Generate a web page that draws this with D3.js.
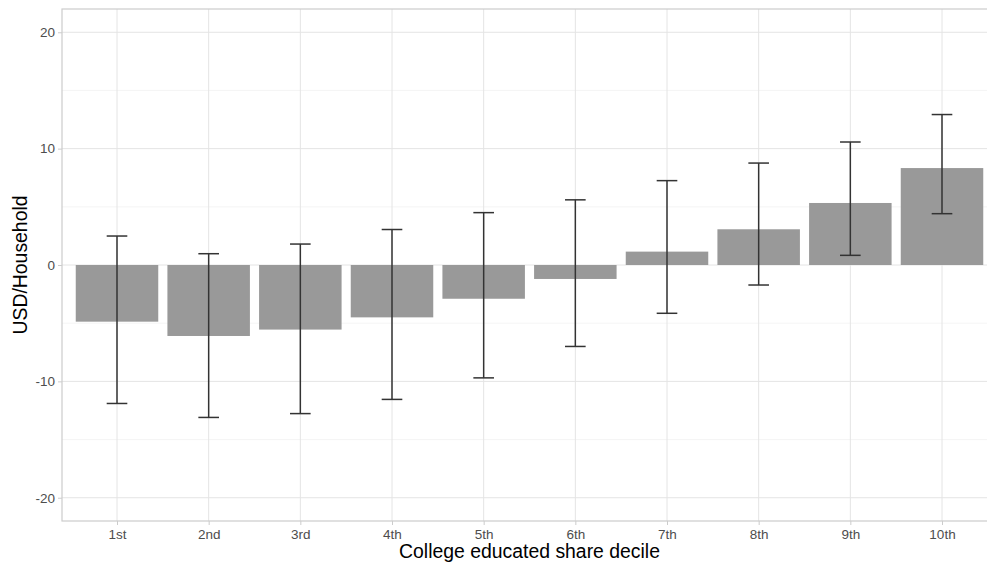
<!DOCTYPE html>
<html>
<head>
<meta charset="utf-8">
<script src="https://cdn.jsdelivr.net/npm/d3@7"></script>
<style>
  html, body { margin: 0; padding: 0; background: #fff; }
  svg { display: block; font-family: "Liberation Sans", Arial, Helvetica, sans-serif; }
</style>
</head>
<body>
<svg id="chart" width="987" height="565"></svg>
<script>
// Deciles of college-educated share
const deciles = ["1st", "2nd", "3rd", "4th", "5th", "6th", "7th", "8th", "9th", "10th"];
// Point estimate (USD per household) and confidence bounds
const estimate = [-4.87, -6.1, -5.55, -4.5, -2.9, -1.2, 1.15, 3.07, 5.33, 8.33];
const lower    = [-11.9, -13.1, -12.77, -11.55, -9.7, -7.0, -4.15, -1.72, 0.83, 4.41];
const upper    = [2.49, 0.97, 1.8, 3.05, 4.5, 5.6, 7.25, 8.76, 10.57, 12.93];
const yTicks = [-20, -10, 0, 10, 20];
const yMinor = [-15, -5, 5, 15];

const svg = d3.select("#chart");
const panel = { left: 62, right: 997, top: 9, bottom: 521 };

// discrete x with 0.6-unit expansion on both sides
const step = (panel.right - panel.left) / (deciles.length - 1 + 1.2);
const x = d3.scalePoint().domain(deciles)
  .range([panel.left + 0.6 * step, panel.right - 0.6 * step]);
const y = d3.scaleLinear().domain([-22, 22]).range([panel.bottom, panel.top]);

const g = svg.append("g");

// minor horizontal gridlines
g.selectAll("line.minor").data(yMinor).join("line")
  .attr("x1", panel.left).attr("x2", panel.right)
  .attr("y1", d => y(d)).attr("y2", d => y(d))
  .attr("stroke", "#efefef").attr("stroke-width", 0.6);

// major gridlines
g.selectAll("line.major").data(yTicks).join("line")
  .attr("x1", panel.left).attr("x2", panel.right)
  .attr("y1", d => y(d)).attr("y2", d => y(d))
  .attr("stroke", "#e4e4e4").attr("stroke-width", 1);
g.selectAll("line.vmajor").data(deciles).join("line")
  .attr("y1", panel.top).attr("y2", panel.bottom)
  .attr("x1", d => x(d)).attr("x2", d => x(d))
  .attr("stroke", "#e4e4e4").attr("stroke-width", 1);

// bars
const barW = 0.9 * step;
g.selectAll("rect.bar").data(deciles).join("rect")
  .attr("x", d => x(d) - barW / 2)
  .attr("width", barW)
  .attr("y", (d, i) => y(Math.max(0, estimate[i])))
  .attr("height", (d, i) => Math.abs(y(estimate[i]) - y(0)))
  .attr("fill", "#999999");

// error bars
const capW = 0.225 * step;
const eb = g.selectAll("g.err").data(deciles).join("g")
  .attr("stroke", "#333333").attr("stroke-width", 1.5).attr("fill", "none");
eb.append("line")
  .attr("x1", d => x(d)).attr("x2", d => x(d))
  .attr("y1", (d, i) => y(upper[i])).attr("y2", (d, i) => y(lower[i]));
eb.append("line")
  .attr("x1", d => x(d) - capW / 2).attr("x2", d => x(d) + capW / 2)
  .attr("y1", (d, i) => y(upper[i])).attr("y2", (d, i) => y(upper[i]));
eb.append("line")
  .attr("x1", d => x(d) - capW / 2).attr("x2", d => x(d) + capW / 2)
  .attr("y1", (d, i) => y(lower[i])).attr("y2", (d, i) => y(lower[i]));

// panel border
svg.append("rect")
  .attr("x", panel.left).attr("y", panel.top)
  .attr("width", panel.right - panel.left).attr("height", panel.bottom - panel.top)
  .attr("fill", "none").attr("stroke", "#cccccc").attr("stroke-width", 1.2);

// y axis
const yAxis = svg.append("g")
  .attr("transform", `translate(${panel.left},0)`)
  .call(d3.axisLeft(y).tickValues(yTicks).tickSize(4).tickPadding(3).tickFormat(d => String(d)));
yAxis.select(".domain").remove();
yAxis.selectAll("line").attr("stroke", "#cccccc");
yAxis.selectAll("text").attr("fill", "#4d4d4d").attr("font-size", 13.5)
  .attr("font-family", "Liberation Sans, Arial, sans-serif");

// x axis
const xAxis = svg.append("g")
  .attr("transform", `translate(0,${panel.bottom})`)
  .call(d3.axisBottom(x).tickSize(4).tickPadding(4));
xAxis.select(".domain").remove();
xAxis.selectAll("line").attr("stroke", "#cccccc");
xAxis.selectAll("text").attr("fill", "#4d4d4d").attr("font-size", 13.5)
  .attr("font-family", "Liberation Sans, Arial, sans-serif");

// axis titles
svg.append("text")
  .attr("x", (panel.left + panel.right) / 2).attr("y", 558)
  .attr("text-anchor", "middle").attr("font-size", 19.4).attr("fill", "#000")
  .text("College educated share decile");
svg.append("text")
  .attr("transform", `translate(27,${(panel.top + panel.bottom) / 2}) rotate(-90)`)
  .attr("text-anchor", "middle").attr("font-size", 19.4).attr("fill", "#000")
  .text("USD/Household");
</script>
</body>
</html>
